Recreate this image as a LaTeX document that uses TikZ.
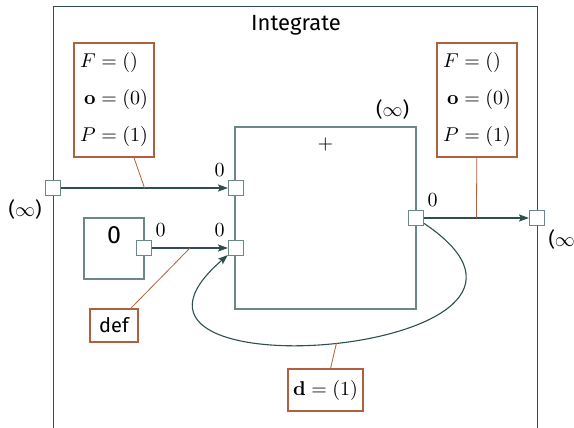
\documentclass[tikz,border=0pt]{standalone}
\usepackage[no-math]{fontspec}
\setmainfont{Fira Sans}
\usepackage{amsmath}
\usepackage{amssymb}
\usepackage{xcolor}
\usetikzlibrary{arrows.meta, positioning}

\definecolor{wire}{HTML}{2F4F4F}
\definecolor{frame}{HTML}{6A8888}
\definecolor{note}{HTML}{B0603F}

\newcommand{\infport}{(\ensuremath{\infty})}

\begin{document}
\begin{tikzpicture}[
    x=0.5pt, y=-0.5pt,
    every node/.style={font=\normalsize},
    block/.style={rectangle, draw=frame, fill=white, line width=0.6pt, inner sep=0pt},
    port/.style={rectangle, draw=frame, fill=white, minimum size=7.5pt, inner sep=0pt, line width=0.6pt},
    annot/.style={rectangle, draw=note, fill=white, line width=0.6pt, inner sep=0pt, align=center},
    arr/.style={-{Stealth[length=5pt, width=3.6pt, inset=1pt]}, draw=wire, line width=0.55pt},
    tie/.style={draw=note, line width=0.4pt},
    plabel/.style={inner sep=1.5pt},
]
\clip (0,0) rectangle (574,428);

% outer block, open at the bottom of the page
\node[block, draw=wire, line width=0.5pt, minimum width=242pt, minimum height=222pt] (integrate) at (295,228) {};
\node[font=\fontsize{11}{13}\selectfont] (title) at (296,25) {Integrate};

% inner blocks
\node[block, minimum width=90.5pt, minimum height=91pt,
      label={[anchor=north, yshift=-2pt]north:$+$},
      label={[anchor=south east, inner sep=3.5pt]north east:\infport}] (sum) at (325.5,218) {};
\node[block, minimum width=30pt, minimum height=30.5pt,
      label={[anchor=north, yshift=-1pt, font=\fontsize{12.5}{15}\selectfont]north:0}] (zero) at (114,248.5) {};

% annotations
\node[annot, minimum width=40pt, minimum height=57pt] (annL) at (114,100)
    {$\begin{array}{@{}r@{\;=\;}l@{}} F & () \\[6.5pt] \mathbf{o} & (0) \\[6.5pt] P & (1) \end{array}$};
\node[annot, minimum width=40pt, minimum height=57pt] (annR) at (477,100)
    {$\begin{array}{@{}r@{\;=\;}l@{}} F & () \\[6.5pt] \mathbf{o} & (0) \\[6.5pt] P & (1) \end{array}$};
\node[annot, minimum width=24pt, minimum height=16.5pt] (annDef) at (114,325.5) {def};
\node[annot, minimum width=37.5pt, minimum height=21pt] (annD) at (325.5,390) {$\mathbf{d} = (1)$};

% ports
\node[port, label={[plabel, anchor=north east]south west:\infport}] (inL) at (53,188) {};
\node[port, label={[plabel, anchor=north west]south east:\infport}] (outR) at (537,218) {};
\node[port, label={[plabel, anchor=south east]north west:$0$}] (sumIn1) at (236,188) {};
\node[port, label={[plabel, anchor=south east]north west:$0$}] (sumIn2) at (236,248) {};
\node[port, label={[plabel, anchor=south west]north east:$0$}] (sumOut) at (416,218) {};
\node[port, label={[plabel, anchor=south west]north east:$0$}] (zeroOut) at (144,248) {};

% wires
\draw[arr] (inL) -- coordinate[pos=0.5] (tapL) (sumIn1);
\draw[arr] (sumOut) -- coordinate[pos=0.5] (tapR) (outR);
\draw[arr] (zeroOut) -- coordinate[pos=0.5] (tapZ) (sumIn2);
\draw[arr] (sumOut) .. controls (620,355) and (60,400) .. (sumIn2) coordinate[pos=0.5] (tapD);

% annotation ties
\draw[tie] (annL) -- (tapL);
\draw[tie] (annR) -- (tapR);
\draw[tie] (annDef) -- (tapZ);
\draw[tie] (annD) -- (tapD);

\end{tikzpicture}
\end{document}
